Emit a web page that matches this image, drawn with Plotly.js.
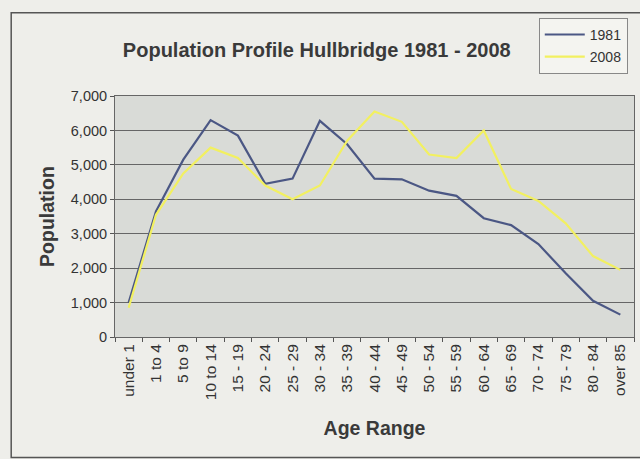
<!DOCTYPE html>
<html><head><meta charset="utf-8">
<script src="https://cdn.plot.ly/plotly-3.0.1.min.js"></script>
<style>html,body{margin:0;padding:0;background:#eeeeea;}#chart{width:640px;height:459px;}</style>
</head><body><div id="chart"></div>
<script>
const categories = ["under 1","1 to 4","5 to 9","10 to 14","15 - 19","20 - 24","25 - 29","30 - 34","35 - 39","40 - 44","45 - 49","50 - 54","55 - 59","60 - 64","65 - 69","70 - 74","75 - 79","80 - 84","over 85"];
const pop1981 = [1000,3650,5150,6300,5850,4450,4600,6280,5600,4600,4580,4250,4100,3450,3250,2700,1850,1050,650];
const pop2008 = [850,3550,4750,5500,5200,4400,4000,4400,5700,6550,6250,5300,5200,6000,4300,3950,3300,2350,1950];

const traces = [
  {x: categories, y: pop1981, type:'scatter', mode:'lines', name:'1981', legendgroup:'a', line:{color:'#4b5784', width:2.2}},
  {x: categories, y: pop2008, type:'scatter', mode:'lines', name:'2008', legendgroup:'b', line:{color:'#f2f060', width:2.2}}
];
const layout = {
  width:640, height:459,
  paper_bgcolor:'#eeeeea', plot_bgcolor:'#d9dbd7',
  margin:{l:115, r:6, t:96, b:122},
  font:{family:'Liberation Sans, Arial, sans-serif', color:'#333'},
  title:{text:'<b>Population Profile Hullbridge 1981 - 2008</b>', font:{size:20, color:'#3a3a3a'}, x:0.495, xanchor:'center', y:0.89, yanchor:'middle'},
  xaxis:{type:'category', range:[-0.5, categories.length-0.5], tickangle:-90, tickfont:{size:15.5, color:'#333'}, ticks:'outside', tickson:'boundaries', ticklen:4, tickcolor:'#555',
         showline:true, linecolor:'#666', linewidth:1, showgrid:false, mirror:true,
         title:{text:'<b>Age Range</b>', font:{size:19.5, color:'#3a3a3a'}, standoff:22}},
  yaxis:{range:[0,7000], dtick:1000, tickformat:',', tickfont:{size:14.5, color:'#333'}, ticks:'outside', ticklen:4, tickcolor:'#555',
         showline:true, linecolor:'#666', linewidth:1, mirror:true, gridcolor:'#666', gridwidth:1, zeroline:false,
         title:{text:'<b>Population</b>', font:{size:19.5, color:'#3a3a3a'}, standoff:10}},
  legend:{x:0.988, xanchor:'right', y:1.324, yanchor:'top', bgcolor:'#f4f4f0', bordercolor:'#888', borderwidth:1, font:{size:14, color:'#333'}, tracegroupgap:1, itemwidth:40},
  shapes:[{type:'rect', xref:'paper', yref:'paper', x0:-0.2, x1:1.02, y0:-0.5, y1:1.345, line:{color:'#555', width:1.5}, layer:'below'}],
  showlegend:true
};
Plotly.newPlot('chart', traces, layout, {displayModeBar:false, staticPlot:true});
</script></body></html>
